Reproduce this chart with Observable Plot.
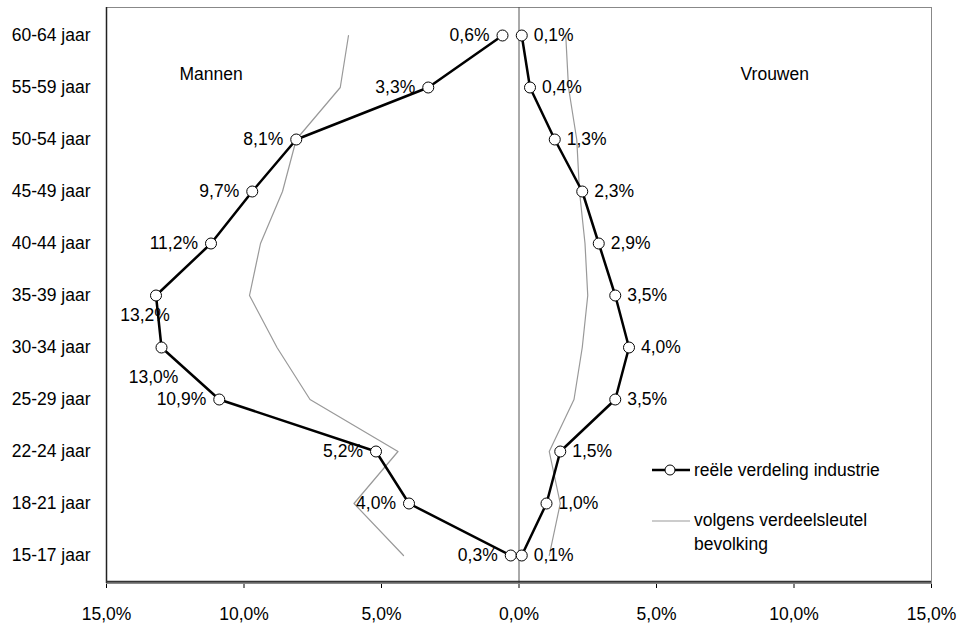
<!DOCTYPE html>
<html><head><meta charset="utf-8">
<script src="https://cdn.jsdelivr.net/npm/d3@7"></script>
<script src="https://cdn.jsdelivr.net/npm/@observablehq/plot@0.6"></script>
<style>
body{margin:0;background:#fff;font-family:Arial,"Liberation Sans",sans-serif;}
#wrap{position:relative;width:958px;height:625px;}
.lg{position:absolute;font-size:17.5px;color:#000;line-height:24px;white-space:nowrap;}
</style></head><body>
<div id="wrap"><div id="chart"></div>
<svg class="lg" style="left:652px;top:464px" width="40" height="12"><line x1="0" x2="38" y1="6" y2="6" stroke="#000" stroke-width="2.5"/><circle cx="18" cy="6" r="5" fill="#fff" stroke="#000" stroke-width="1"/></svg>
<div class="lg" style="left:694px;top:458px">reële verdeling industrie</div>
<svg class="lg" style="left:652px;top:515px" width="40" height="12"><line x1="0" x2="38" y1="6" y2="6" stroke="#999" stroke-width="1.2"/></svg>
<div class="lg" style="left:694px;top:508px">volgens verdeelsleutel<br>bevolking</div>
</div>
<script>
const ageGroups = ["60-64 jaar","55-59 jaar","50-54 jaar","45-49 jaar","40-44 jaar","35-39 jaar","30-34 jaar","25-29 jaar","22-24 jaar","18-21 jaar","15-17 jaar"];
const menActual   = [0.6, 3.3, 8.1, 9.7, 11.2, 13.2, 13.0, 10.9, 5.2, 4.0, 0.3];
const womenActual = [0.1, 0.4, 1.3, 2.3, 2.9, 3.5, 4.0, 3.5, 1.5, 1.0, 0.1];
const menPopulation   = [6.2, 6.5, 8.1, 8.6, 9.4, 9.8, 8.8, 7.6, 4.4, 6.0, 4.2];
const womenPopulation = [1.7, 1.8, 2.1, 2.2, 2.4, 2.5, 2.3, 2.0, 1.1, 1.5, 1.1];
const xTicks = [-15, -10, -5, 0, 5, 10, 15];
const sideLabels = [{text: "Mannen", x: -11.2, age: "55-59 jaar"}, {text: "Vrouwen", x: 9.3, age: "55-59 jaar"}];

const fmt = v => Math.abs(v).toFixed(1).replace(".", ",") + "%";
const mk = (arr, sign) => ageGroups.map((a, i) => ({age: a, value: sign * arr[i]}));
const men = mk(menActual, -1), women = mk(womenActual, 1);
const menPop = mk(menPopulation, -1), womenPop = mk(womenPopulation, 1);
const special = d => d.value <= -12.95;

const font = "Arial, 'Liberation Sans', sans-serif";
const fs = 17.5;
const chart = Plot.plot({
  width: 958, height: 625,
  marginLeft: 106, marginRight: 27, marginTop: 7, marginBottom: 42,
  style: {fontFamily: font, fontSize: fs + "px", color: "#000", background: "#fff"},
  x: {domain: [-15, 15], ticks: xTicks, tickFormat: fmt, tickSize: 5, tickPadding: 19, label: null},
  y: {type: "point", domain: ageGroups, padding: 0.5, label: null, tickSize: 0, tickPadding: 16},
  marks: [
    Plot.frame({stroke: "#888", strokeWidth: 1}),
    Plot.ruleX([0], {stroke: "#555", strokeWidth: 1}),
    Plot.ruleX([-15], {stroke: "#222", strokeWidth: 1.5}),
    Plot.ruleY([ageGroups[ageGroups.length - 1]], {x1: -15, x2: 15, dy: 26.2, stroke: "#333", strokeWidth: 2}),
    Plot.line(menPop, {x: "value", y: "age", stroke: "#999", strokeWidth: 1.2}),
    Plot.line(womenPop, {x: "value", y: "age", stroke: "#999", strokeWidth: 1.2}),
    Plot.line(men, {x: "value", y: "age", stroke: "#000", strokeWidth: 2.5}),
    Plot.line(women, {x: "value", y: "age", stroke: "#000", strokeWidth: 2.5}),
    Plot.dot(men, {x: "value", y: "age", r: 5.5, fill: "#fff", stroke: "#000", strokeWidth: 1}),
    Plot.dot(women, {x: "value", y: "age", r: 5.5, fill: "#fff", stroke: "#000", strokeWidth: 1}),
    Plot.text(men.filter(d => !special(d)), {x: "value", y: "age", text: d => fmt(d.value), textAnchor: "end", dx: -13, fontSize: fs, fill: "#000"}),
    Plot.text(men.filter(d => d.age === "35-39 jaar"), {x: "value", y: "age", text: d => fmt(d.value), textAnchor: "middle", dx: -11, dy: 20, fontSize: fs, fill: "#000"}),
    Plot.text(men.filter(d => d.age === "30-34 jaar"), {x: "value", y: "age", text: d => fmt(d.value), textAnchor: "middle", dx: -8, dy: 30, fontSize: fs, fill: "#000"}),
    Plot.text(women, {x: "value", y: "age", text: d => fmt(d.value), textAnchor: "start", dx: 12, fontSize: fs, fill: "#000"}),
    Plot.text(sideLabels, {x: "x", y: "age", text: "text", dy: -13, fontSize: fs, fill: "#000"})
  ]
});
document.getElementById("chart").appendChild(chart);
</script>
</body></html>
